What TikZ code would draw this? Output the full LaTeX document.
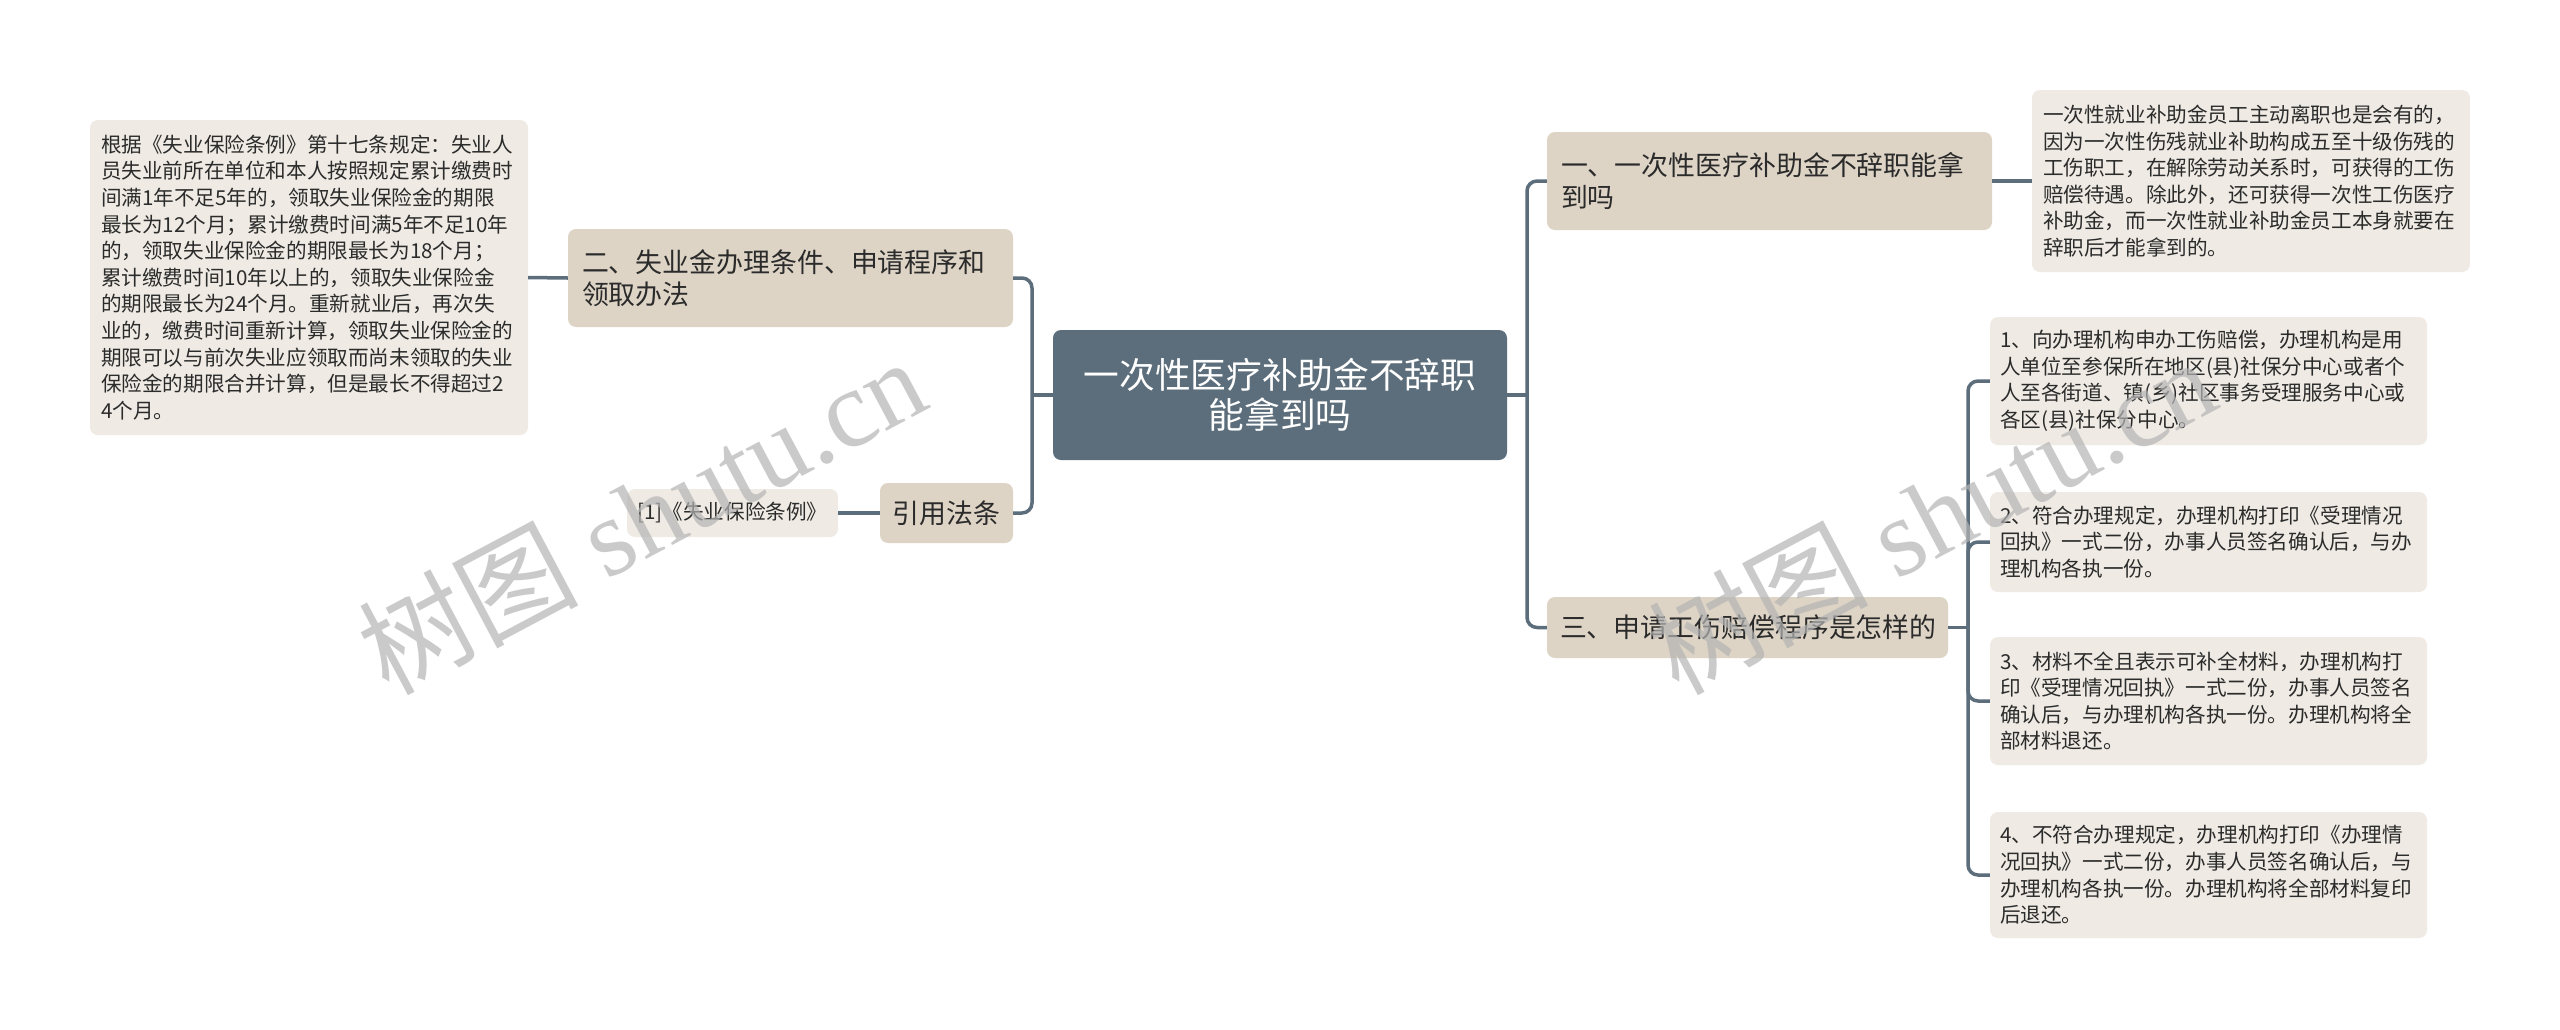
\documentclass[tikz,border=0pt]{standalone}
\usepackage{fontspec}
\setmainfont{Noto Sans CJK SC}
\newfontfamily\wmcjk{Noto Sans CJK SC}
\newfontfamily\wmlat{Liberation Serif}
\definecolor{rootc}{HTML}{5C6E7B}
\definecolor{branchc}{HTML}{DDD4C6}
\definecolor{leafc}{HTML}{EFEBE4}
\definecolor{linec}{HTML}{5C6E7B}
\definecolor{txt}{HTML}{2B2B2B}
\definecolor{wmc}{HTML}{B4B4B4}
\tikzset{
  box/.style={rectangle, rounded corners=8pt, inner sep=0pt, text=txt, align=left},
  rootbox/.style={box, fill=rootc, text=white, align=center, font=\fontsize{35.7pt}{40pt}\selectfont},
  branchbox/.style={box, fill=branchc, font=\fontsize{26.9pt}{32pt}\selectfont},
  leafbox/.style={box, fill=leafc, font=\fontsize{20.6pt}{26.6pt}\selectfont},
  link/.style={draw=linec, line width=3.5pt, rounded corners=10pt},
  wmark/.style={text=wmc, opacity=0.7, rotate=28, inner sep=0pt},
}
\begin{document}
\begin{tikzpicture}[x=1pt, y=-1pt]
\fill[white] (0,0) rectangle (2560,1029);
\useasboundingbox (0,0) rectangle (2560,1029);

% root
\node[rootbox, minimum width=454pt, minimum height=130pt, text width=440pt] (root) at (1280,395)
  {一次性医疗补助金不辞职\\能拿到吗};

% left side
\node[branchbox, minimum width=445pt, minimum height=98pt, text width=417pt] (b2) at (790.5,278)
  {二、失业金办理条件、申请程序和\\领取办法};
\node[leafbox, minimum width=438pt, minimum height=315pt, text width=416pt] (ld) at (309,277.5)
  {根据《失业保险条例》第十七条规定：失业人\\
   员失业前所在单位和本人按照规定累计缴费时\\
   间满1年不足5年的，领取失业保险金的期限\\
   最长为12个月；累计缴费时间满5年不足10年\\
   的，领取失业保险金的期限最长为18个月；\\
   累计缴费时间10年以上的，领取失业保险金\\
   的期限最长为24个月。重新就业后，再次失\\
   业的，缴费时间重新计算，领取失业保险金的\\
   期限可以与前次失业应领取而尚未领取的失业\\
   保险金的期限合并计算，但是最长不得超过2\\
   4个月。};
\node[branchbox, align=center, minimum width=133pt, minimum height=60pt, text width=120pt] (bc) at (946.5,513)
  {引用法条};
\node[leafbox, align=center, minimum width=211pt, minimum height=48pt, text width=200pt] (cite) at (732.5,513)
  {[1]《失业保险条例》};

% right side
\node[branchbox, minimum width=445pt, minimum height=98pt, text width=417pt] (b1) at (1769.5,181)
  {一、一次性医疗补助金不辞职能拿\\到吗};
\node[leafbox, minimum width=438pt, minimum height=182pt, text width=416pt] (d1) at (2251,181)
  {一次性就业补助金员工主动离职也是会有的，\\
   因为一次性伤残就业补助构成五至十级伤残的\\
   工伤职工，在解除劳动关系时，可获得的工伤\\
   赔偿待遇。除此外，还可获得一次性工伤医疗\\
   补助金，而一次性就业补助金员工本身就要在\\
   辞职后才能拿到的。};
\node[branchbox, minimum width=401pt, minimum height=61pt, text width=375pt] (b3) at (1747.5,627.5)
  {三、申请工伤赔偿程序是怎样的};
\node[leafbox, minimum width=437pt, minimum height=128pt, text width=417pt] (i1) at (2208.5,381)
  {1、向办理机构申办工伤赔偿，办理机构是用\\
   人单位至参保所在地区(县)社保分中心或者个\\
   人至各街道、镇(乡)社区事务受理服务中心或\\
   各区(县)社保分中心。};
\node[leafbox, minimum width=437pt, minimum height=100pt, text width=417pt] (i2) at (2208.5,542)
  {2、符合办理规定，办理机构打印《受理情况\\
   回执》一式二份，办事人员签名确认后，与办\\
   理机构各执一份。};
\node[leafbox, minimum width=437pt, minimum height=128pt, text width=417pt] (i3) at (2208.5,701)
  {3、材料不全且表示可补全材料，办理机构打\\
   印《受理情况回执》一式二份，办事人员签名\\
   确认后，与办理机构各执一份。办理机构将全\\
   部材料退还。};
\node[leafbox, minimum width=437pt, minimum height=126pt, text width=417pt] (i4) at (2208.5,875)
  {4、不符合办理规定，办理机构打印《办理情\\
   况回执》一式二份，办事人员签名确认后，与\\
   办理机构各执一份。办理机构将全部材料复印\\
   后退还。};

% junction points
\coordinate (jl) at (1032,395);
\coordinate (jr) at (1527,395);
\coordinate (j3) at (1968,627.5);

% connectors
\draw[link] (root.west) -- (jl);
\draw[link] (jl) |- (b2.east);
\draw[link] (jl) |- (bc.east);
\draw[link] (b2.west) -- (ld.east);
\draw[link] (bc.west) -- (cite.east);

\draw[link] (root.east) -- (jr);
\draw[link] (jr) |- (b1.west);
\draw[link] (jr) |- (b3.west);
\draw[link] (b1.east) -- (d1.west);
\draw[link] (b3.east) -- (j3);
\draw[link] (j3) |- (i1.west);
\draw[link] (j3) |- (i2.west);
\draw[link] (j3) |- (i3.west);
\draw[link] (j3) |- (i4.west);

% watermarks
\node[wmark] (wm1) at (641,515) {\fontsize{110pt}{110pt}\selectfont\wmcjk 树图\wmlat{} shutu.cn};
\node[wmark] (wm2) at (1931,515) {\fontsize{110pt}{110pt}\selectfont\wmcjk 树图\wmlat{} shutu.cn};
\end{tikzpicture}
\end{document}
